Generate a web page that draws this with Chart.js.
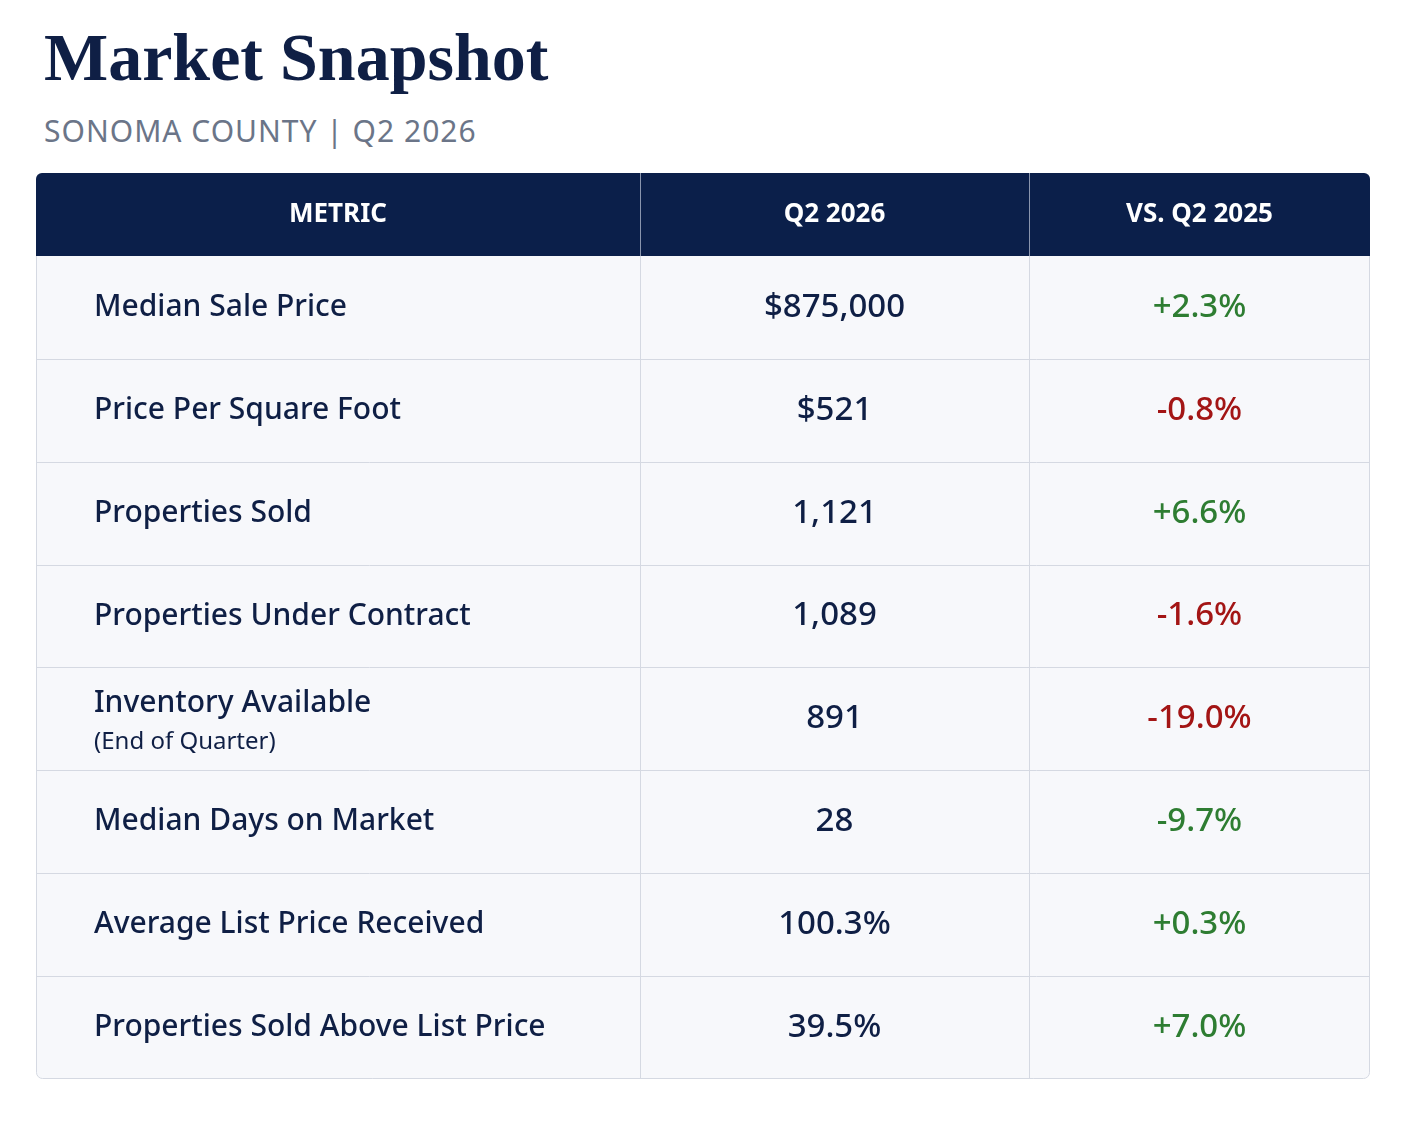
<!DOCTYPE html>
<html><head><meta charset="utf-8">
<script src="https://cdn.jsdelivr.net/npm/chart.js@4"></script>
<style>
body{margin:0;background:#fff;width:1402px;height:1122px;position:relative;overflow:hidden}
#t{position:absolute;left:44px;top:18px;font-family:"Liberation Serif","DejaVu Serif",serif;font-weight:bold;font-size:68px;color:#0f1f45;margin:0}
#s{position:absolute;left:44px;top:110px;font-family:"Noto Sans",sans-serif;font-size:30px;color:#6b7588;letter-spacing:1px}
#wrap{position:absolute;left:36px;top:173px;width:1334px;height:906px}
</style></head><body>
<h1 id="t">Market Snapshot</h1>
<div id="s">SONOMA COUNTY | Q2 2026</div>
<div id="wrap"><canvas id="c"></canvas></div>
<script>
const headers = ["METRIC","Q2 2026","VS. Q2 2025"];
const metrics = ["Median Sale Price","Price Per Square Foot","Properties Sold","Properties Under Contract","Inventory Available","Median Days on Market","Average List Price Received","Properties Sold Above List Price"];
const subNotes = ["","","","","(End of Quarter)","","",""];
const currentValues = ["$875,000","$521","1,121","1,089","891","28","100.3%","39.5%"];
const changes = [2.3,-0.8,6.6,-1.6,-19.0,-9.7,0.3,7.0];
const goodWhenDown = [false,false,false,false,false,true,false,false];

const colEdges=[0,604,993,1334];
const headerH=83, rowH=(906-83)/8;
const fmt=v=>(v>0?"+":"")+v.toFixed(1)+"%";

const tablePlugin={id:'table',beforeDraw(ch){
  const c=ch.ctx,x=ch.scales.x,y=ch.scales.y;
  const X=v=>x.getPixelForValue(v),Y=v=>y.getPixelForValue(v);
  const L=X(0),R=X(1334),T=Y(0),B=Y(906);
  c.save();
  // body bg
  c.beginPath();c.roundRect(L+0.5,T+0.5,R-L-1,B-T-1,6);c.fillStyle="#f7f8fb";c.fill();
  c.strokeStyle="#d5d9e2";c.lineWidth=1;c.stroke();
  // header
  c.beginPath();c.roundRect(L,T,R-L,Y(headerH)-T,[6,6,0,0]);c.fillStyle="#0b1f4a";c.fill();
  c.fillStyle="#fff";c.font="bold 26px 'Noto Sans', sans-serif";c.textAlign="center";c.textBaseline="middle";
  headers.forEach((h,i)=>c.fillText(h,(X(colEdges[i])+X(colEdges[i+1]))/2,Y(headerH/2)));
  // header separators
  c.strokeStyle="#8a95ad";
  [1,2].forEach(i=>{c.beginPath();c.moveTo(Math.round(X(colEdges[i]))+0.5,T);c.lineTo(Math.round(X(colEdges[i]))+0.5,Y(headerH));c.stroke();});
  c.strokeStyle="#d5d9e2";
  [1,2].forEach(i=>{c.beginPath();c.moveTo(Math.round(X(colEdges[i]))+0.5,Y(headerH));c.lineTo(Math.round(X(colEdges[i]))+0.5,B);c.stroke();});
  metrics.forEach((m,r)=>{
    const top=headerH+r*rowH, mid=top+rowH/2;
    if(r>0){c.beginPath();c.moveTo(L,Math.round(Y(top))+0.5);c.lineTo(R,Math.round(Y(top))+0.5);c.stroke();}
    c.textAlign="left";c.fillStyle="#0f1f45";c.font="500 30px 'Noto Sans', sans-serif";
    if(subNotes[r]){c.fillText(m,X(58),Y(mid-15));c.font="24px 'Noto Sans', sans-serif";c.fillText(subNotes[r],X(58),Y(mid+23));}
    else c.fillText(m,X(58),Y(mid));
    c.textAlign="center";c.font="500 33px 'Noto Sans', sans-serif";c.fillStyle="#0f1f45";
    c.fillText(currentValues[r],(X(colEdges[1])+X(colEdges[2]))/2,Y(mid));
    const v=changes[r],good=goodWhenDown[r]?v<0:v>0;
    c.fillStyle=good?"#2e7d32":"#a31515";
    c.fillText(fmt(v),(X(colEdges[2])+X(colEdges[3]))/2,Y(mid));
  });
  c.restore();
}};

new Chart(document.getElementById('c'),{type:'scatter',data:{datasets:[{data:[]}]},
 options:{responsive:true,maintainAspectRatio:false,animation:false,layout:{padding:0},
  plugins:{legend:{display:false},tooltip:{enabled:false}},
  scales:{x:{type:'linear',min:0,max:1334,display:false},y:{type:'linear',min:0,max:906,reverse:true,display:false}}},
 plugins:[tablePlugin]});
</script></body></html>
